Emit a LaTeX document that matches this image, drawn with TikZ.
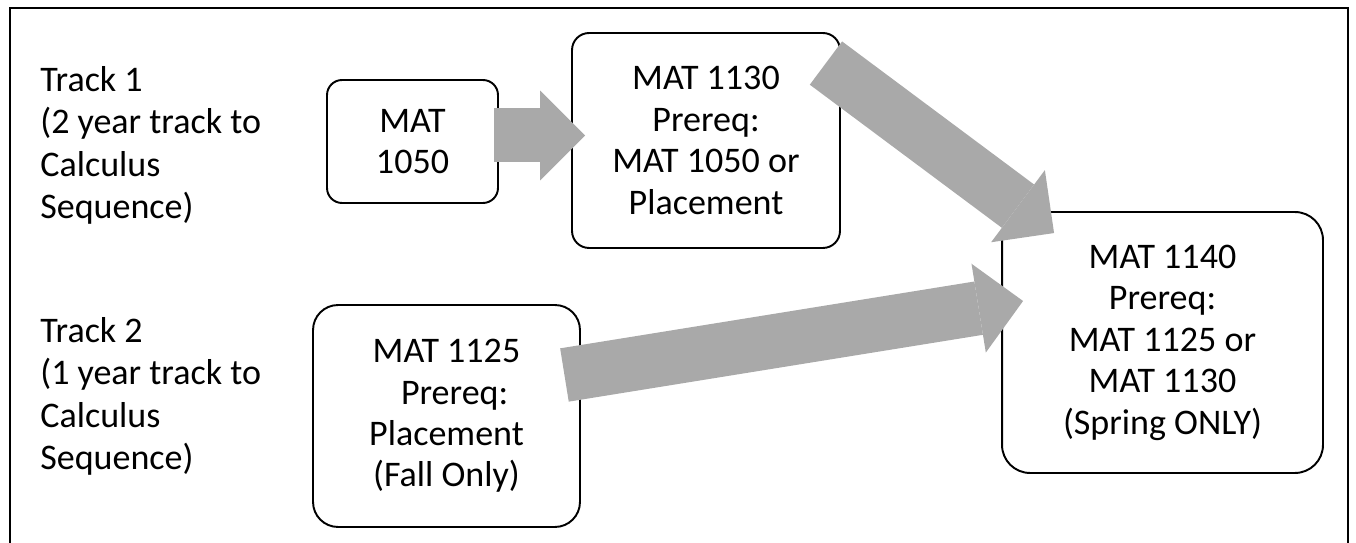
\documentclass[tikz,border=0pt]{standalone}
\usepackage{fontspec}
\setmainfont{Carlito}
\usetikzlibrary{arrows.meta,calc}
\usepackage{xcolor}
\definecolor{flowgray}{HTML}{A9A9A9}

\begin{document}
\begin{tikzpicture}[x=0.02cm,y=-0.02cm,
		%Option for the block arrows%
		flow/.style={draw=flowgray,line width=1.08cm,
			-{Triangle[length=0.9cm,width=1.8cm,line width=0pt]}},%
		course/.style={draw=black,line width=1.1pt,rounded corners=#1,
			align=center,inner sep=0pt,
			font=\fontsize{20.5}{23.6}\selectfont},%
		track/.style={align=left,inner sep=0pt,anchor=base west,
			font=\fontsize{20.5}{24.2}\selectfont}%
		]
		\useasboundingbox (0,0) rectangle (1356,543);
		%% outer frame, open at the bottom
		\draw[line width=1.4pt] (10,560) -- (10,8) -- (1348,8) -- (1348,560);
		%
		%% the two tracks (base is the last line)
		\node[track] (track1) at (40,219) {Track 1\\(2 year track to\\Calculus\\Sequence)};
		\node[track] (track2) at (40,470) {Track 2\\(1 year track to\\Calculus\\Sequence)};
		%
		%% courses
		\node[course=0.3cm,minimum width=3.42cm,minimum height=2.46cm] (m1050) at (412.5,141.5) {MAT\\1050};
		\node[course=0.34cm,minimum width=5.36cm,minimum height=4.3cm] (m1130) at (706,140.5) {MAT 1130\\Prereq:\\MAT 1050 or\\Placement};
		\node[course=0.5cm,minimum width=5.34cm,minimum height=4.44cm] (m1125) at (446.5,416) {MAT 1125\\\hspace*{0.45em}Prereq:\\Placement\\(Fall Only)};
		\node[course=0.56cm,minimum width=6.42cm,minimum height=5.22cm] (m1140) at (1162.5,342.5) {MAT 1140\\Prereq:\\MAT 1125 or\\MAT 1130\\(Spring ONLY)};
		%
		%% arrows between the courses
		\draw[flow] ($(m1050.east)+(-5,-6)$) -- ($(m1130.west)+(14,-5)$);
		\draw[flow] ($(m1130.north east)+(-15,31)$) -- ($(m1140.north west)+(53,22)$);
		\draw[flow] ($(m1125.east)+(-16.5,-41)$) -- ($(m1140.west)+(22,-41.5)$);
	\end{tikzpicture}
\end{document}
